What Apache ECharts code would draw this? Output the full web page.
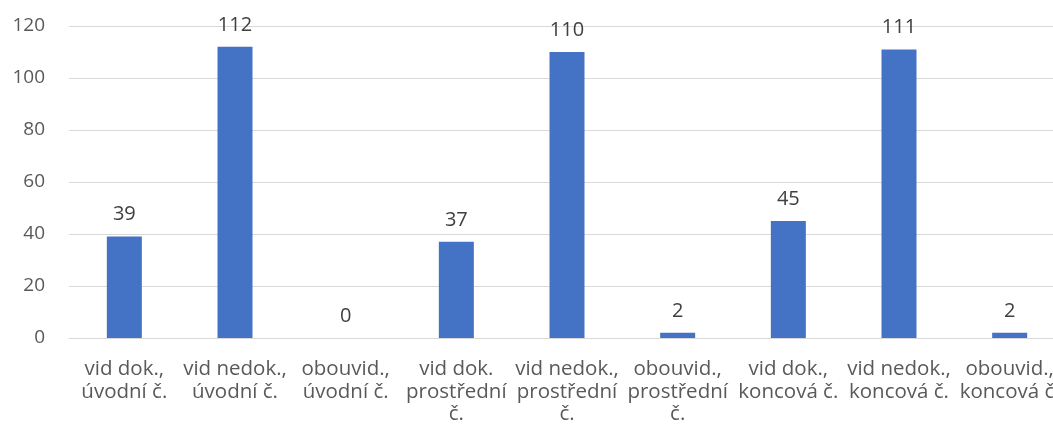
<!DOCTYPE html>
<html>
<head>
<meta charset="utf-8">
<script src="https://cdn.jsdelivr.net/npm/echarts@6/dist/echarts.min.js"></script>
<style>
    html, body { margin: 0; padding: 0; background: #fff; }
    #chart { width: 1053px; height: 437px; }
</style>
</head>
<body>
<div id="chart"></div>
<script>
    const categories = [
        'vid dok.,\núvodní č.',
        'vid nedok.,\núvodní č.',
        'obouvid.,\núvodní č.',
        'vid dok.\nprostřední\nč.',
        'vid nedok.,\nprostřední\nč.',
        'obouvid.,\nprostřední\nč.',
        'vid dok.,\nkoncová č.',
        'vid nedok.,\nkoncová č.',
        'obouvid.,\nkoncová č.'
    ];
    const values = [39, 112, 0, 37, 110, 2, 45, 111, 2];
    const yTicks = { min: 0, max: 120, interval: 20 };

    const chart = echarts.init(document.getElementById('chart'));
    const textColor = '#595959';
    const option = {
        animation: false,
        textStyle: { fontFamily: 'Open Sans' },
        grid: {
            left: 69, width: 996, top: 26, bottom: 99,
            containLabel: false,
            outerBoundsMode: 'none'
        },
        xAxis: {
            type: 'category',
            data: categories,
            axisLine: { lineStyle: { color: '#d9d9d9' } },
            axisTick: { show: false },
            axisLabel: {
                color: textColor,
                fontSize: 20.5,
                lineHeight: 22.5,
                margin: 20,
                interval: 0
            }
        },
        yAxis: {
            type: 'value',
            min: yTicks.min,
            max: yTicks.max,
            interval: yTicks.interval,
            axisLine: { show: false },
            axisTick: { show: false },
            splitLine: { lineStyle: { color: '#d9d9d9', width: 1 } },
            axisLabel: { color: textColor, fontSize: 19, margin: 24 }
        },
        series: [{
            type: 'bar',
            data: values,
            barWidth: 35,
            itemStyle: { color: '#4472C4' },
            label: {
                show: true,
                position: 'top',
                distance: 12,
                color: '#404040',
                fontSize: 20
            }
        }]
    };
    chart.setOption(option);
</script>
</body>
</html>
